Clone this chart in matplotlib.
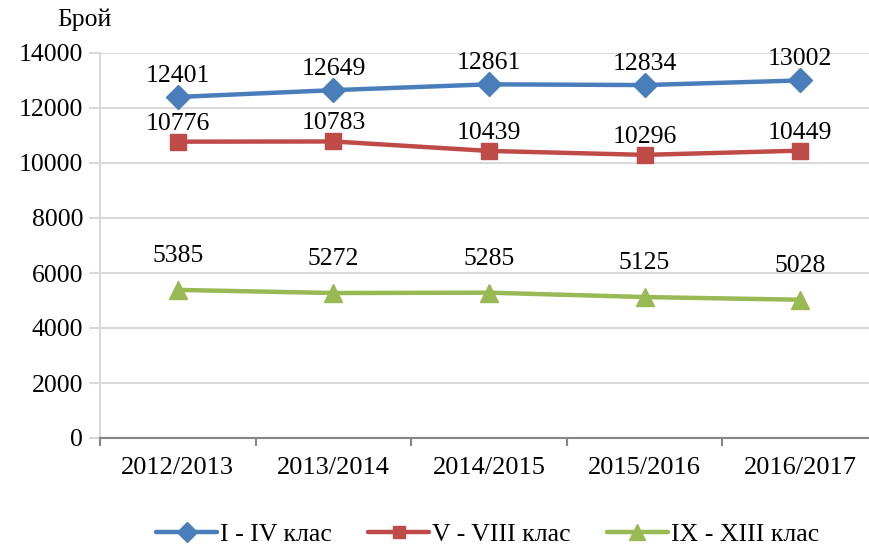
import matplotlib
matplotlib.use("Agg")
import matplotlib.pyplot as plt

plt.rcParams['font.family'] = ['Liberation Serif', 'DejaVu Serif']

years = ["2012/2013", "2013/2014", "2014/2015", "2015/2016", "2016/2017"]
s1_name = "I - IV клас"
s2_name = "V - VIII клас"
s3_name = "IX - XIII клас"
s1 = [12401, 12649, 12861, 12834, 13002]
s2 = [10776, 10783, 10439, 10296, 10449]
s3 = [5385, 5272, 5285, 5125, 5028]
yticks = [0, 2000, 4000, 6000, 8000, 10000, 12000, 14000]

fig = plt.figure(figsize=(8.69, 5.45), dpi=100)
ax = fig.add_axes([100/869, 107/545, 778/869, 385/545])

x = list(range(len(years)))
series = [
    (s1, s1_name, "#4A7EBB", "D", 12, 21),
    (s2, s2_name, "#BE4B48", "s", 11, 18),
    (s3, s3_name, "#98B954", "^", 13, 34),
]
for vals, name, col, mk, ms, off in series:
    ax.plot(x, vals, color=col, lw=3.2, marker=mk, markersize=ms,
            markerfacecolor=col, markeredgecolor=col, label=name, zorder=3,
            solid_capstyle='round')
    for xi, v in zip(x, vals):
        ax.annotate(str(v), (xi, v), xytext=(0, off), textcoords='offset pixels',
                    ha='center', va='center', fontsize=18.5, color='black')

ax.set_xlim(-0.5, 4.5)
ax.set_ylim(0, 14000)
ax.set_yticks(yticks)
ax.set_yticklabels([str(t) for t in yticks], fontsize=18.5)
ax.set_xticks(x)
ax.set_xticklabels(years, fontsize=19)
ax.set_xticks([i - 0.5 for i in range(len(years) + 1)], minor=True)
ax.tick_params(axis='x', which='major', length=0, pad=14)
ax.tick_params(axis='x', which='minor', length=6, color='#868686', width=1.5)
ax.tick_params(axis='y', length=8, color='#D9D9D9', width=1.5, pad=4)
ax.yaxis.grid(True, color='#D9D9D9', lw=1.5, zorder=0)
ax.set_axisbelow(True)
for s in ['top', 'right']:
    ax.spines[s].set_visible(False)
ax.spines['left'].set_color('#D9D9D9')
ax.spines['left'].set_linewidth(1.5)
ax.spines['bottom'].set_color('#868686')
ax.spines['bottom'].set_linewidth(1.5)
ax.spines['bottom'].set_zorder(4)

fig.text(57/869, 1 - 20/545, "Брой", fontsize=18.5, ha='left', va='center')

leg = ax.legend(loc='center', bbox_to_anchor=(0.498, -0.25), ncol=3, frameon=False,
                fontsize=18.5, handlelength=2.4, handletextpad=0.1, columnspacing=1.4,
                markerscale=0.85)

fig.savefig("out.png", dpi=100)
